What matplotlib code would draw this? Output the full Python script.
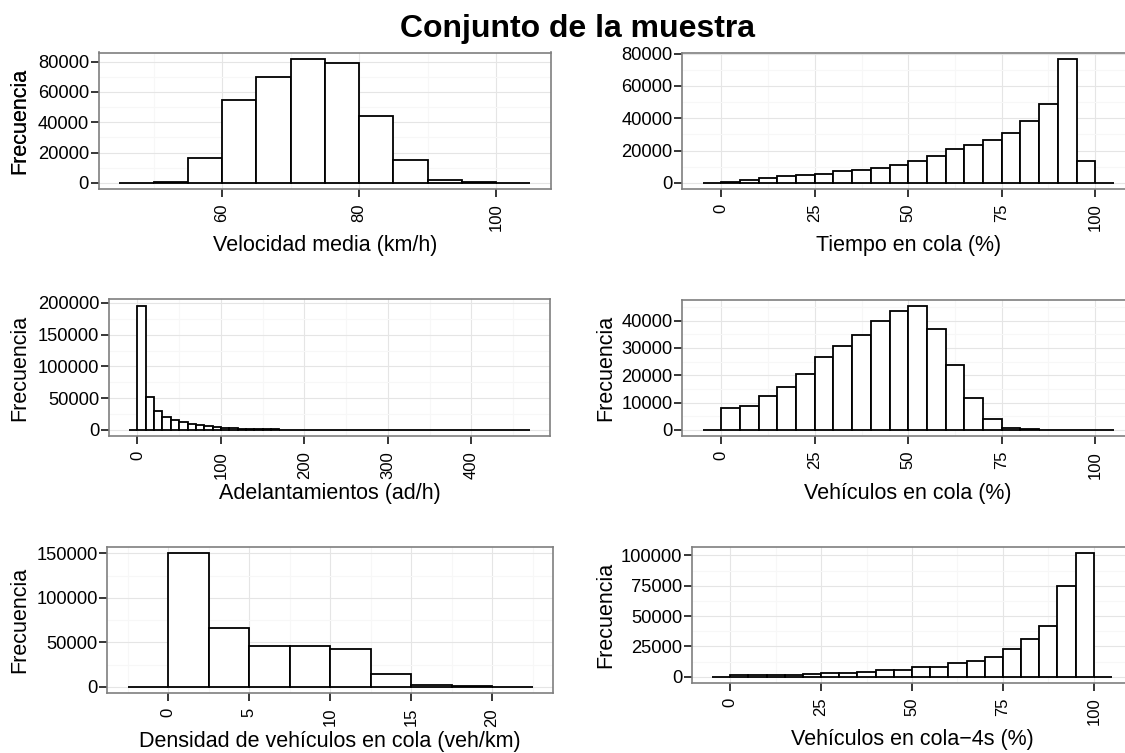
import numpy as np
import matplotlib
matplotlib.use("Agg")
import matplotlib.pyplot as plt
from matplotlib.ticker import MultipleLocator, AutoMinorLocator, StrMethodFormatter

plt.rcParams["font.family"] = ["Liberation Sans", "DejaVu Sans"]

W, H = 1125, 753

# histogram counts per variable, with the left edge of the first bin and the bin width
velocidad_counts = [0, 600, 16500, 55000, 70000, 82000, 79000, 44000, 15200, 1700, 400, 50]
velocidad_bins = (45, 5)

tiempo_counts = [0, 800, 1900, 3200, 4000, 4600, 5600, 7000, 7800, 9400, 11100,
                 13800, 16300, 20700, 23700, 26200, 31000, 38500, 49000, 76800, 13600, 0]
tiempo_bins = (-5, 5)

adelant_counts = [0, 196000, 52600, 30500, 21000, 15800, 12100, 9800, 7900, 6300, 4800,
                  3800, 3000, 2300, 1800, 1400, 1100, 850, 650, 500, 400,
                  300, 240, 190, 150, 120, 95, 75, 60, 48, 38,
                  30, 24, 19, 15, 12, 9, 7, 6, 5, 4,
                  3, 2, 2, 1, 1, 1, 1]
adelant_bins = (-10, 10)

veh_cola_counts = [0, 7900, 8700, 12600, 15600, 20600, 26700, 30600, 34900, 40000, 43500,
                   45400, 36800, 23800, 11600, 4100, 800, 250, 80, 30, 10, 0]
veh_cola_bins = (-5, 5)

densidad_counts = [0, 150000, 66000, 45400, 46100, 42000, 13800, 1900, 600, 100]
densidad_bins = (-2.5, 2.5)

veh_4s_counts = [0, 1100, 1100, 1600, 1700, 2300, 3000, 3300, 4100, 5200, 5300,
                 8000, 8100, 11000, 13200, 16700, 23000, 31300, 41800, 74700, 102000, 0]
veh_4s_bins = (-5, 5)

xlabels = ["Velocidad media (km/h)", "Tiempo en cola (%)", "Adelantamientos (ad/h)",
           "Vehículos en cola (%)", "Densidad de vehículos en cola (veh/km)",
           "Vehículos en cola\u22124s (%)"]
x_steps = [20, 25, 100, 25, 5, 25]
y_steps = [20000, 20000, 50000, 10000, 50000, 25000]

# panel boxes in pixels: left, top, right, bottom (right column runs past the page edge)
boxes = [(98.7, 52.5, 550.8, 189), (682, 52.6, 1134.5, 189),
         (109, 299.3, 550, 436.2), (682, 299.7, 1134.5, 436.2),
         (107.3, 546.7, 552.8, 693.4), (692, 546.7, 1132, 683)]
ylab_x = [19.5, 19.5, 19.5, 606, 19.5, 606]
xlab_y = [245, 245, 494, 494, 741, 739]


def main():
    fig = plt.figure(figsize=(W / 100, H / 100), dpi=100)
    data = [(velocidad_counts, velocidad_bins), (tiempo_counts, tiempo_bins),
            (adelant_counts, adelant_bins), (veh_cola_counts, veh_cola_bins),
            (densidad_counts, densidad_bins), (veh_4s_counts, veh_4s_bins)]

    for i, (counts, (start, width)) in enumerate(data):
        l, t, r, b = boxes[i]
        ax = fig.add_axes([l / W, 1 - b / H, (r - l) / W, (b - t) / H])
        counts = np.asarray(counts, dtype=float)
        edges = start + width * np.arange(len(counts) + 1)
        ax.bar(edges[:-1], counts, width=width, align="edge", color="white",
               edgecolor="black", linewidth=1.3, zorder=3)

        span = edges[-1] - edges[0]
        ax.set_xlim(edges[0] - 0.05 * span, edges[-1] + 0.05 * span)
        ax.set_ylim(-0.05 * counts.max(), 1.05 * counts.max())

        ax.xaxis.set_major_locator(MultipleLocator(x_steps[i]))
        ax.yaxis.set_major_locator(MultipleLocator(y_steps[i]))
        ax.xaxis.set_minor_locator(AutoMinorLocator(2))
        ax.yaxis.set_minor_locator(AutoMinorLocator(2))
        ax.xaxis.set_major_formatter(StrMethodFormatter("{x:.0f}"))
        ax.yaxis.set_major_formatter(StrMethodFormatter("{x:.0f}"))

        ax.set_axisbelow(True)
        ax.grid(which="major", color="#E5E5E5", linewidth=0.8)
        ax.grid(which="minor", color="#F7F7F7", linewidth=0.8)
        for s in ax.spines.values():
            s.set_color("#7F7F7F")
            s.set_linewidth(1.2)

        ax.tick_params(which="major", length=5.5, width=1.1, color="black",
                       labelcolor="black")
        ax.tick_params(axis="x", which="major", pad=5.0, labelrotation=90,
                       labelsize=12)
        ax.tick_params(axis="y", which="major", pad=1.5, labelsize=13.2)
        ax.tick_params(which="minor", length=0)
        for lab in ax.get_xticklabels():
            lab.set_ha("center")
            lab.set_va("top")

        ax.set_xlabel(xlabels[i], fontsize=15.5)
        ax.set_ylabel("Frecuencia", fontsize=15.5)
        ax.xaxis.set_label_coords(0.5, (b - xlab_y[i]) / (b - t))
        ax.xaxis.label.set_va("center")
        ax.yaxis.set_label_coords((ylab_x[i] - l) / (r - l), 0.5)
        ax.yaxis.label.set_va("center")

    fig.text(0.513, 1 - 37 / H, "Conjunto de la muestra", ha="center",
             va="baseline", fontsize=23, fontweight="bold")
    fig.savefig("out.png", dpi=100)


if __name__ == "__main__":
    main()
